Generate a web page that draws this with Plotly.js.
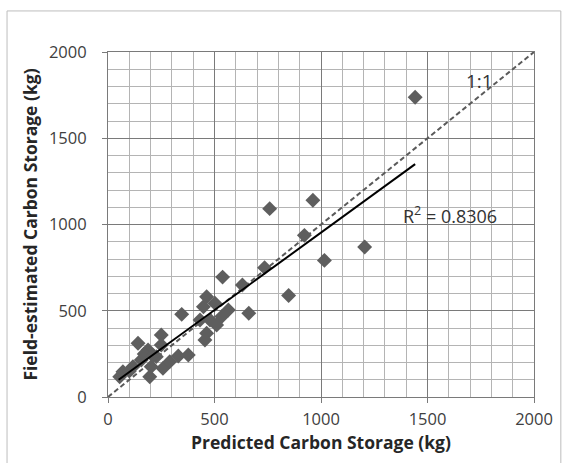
<!DOCTYPE html>
<html>
<head>
<meta charset="utf-8">
<script src="https://cdn.plot.ly/plotly-3.0.1.min.js"></script>
<style>html,body{margin:0;padding:0;background:#fff}#chart{width:564px;height:463px}</style>
</head>
<body>
<div id="chart"></div>
<script>
// Predicted vs field-estimated carbon storage (kg)
var predicted = [1442, 962, 759, 922, 1205, 1016, 848, 735, 538, 631, 661, 346, 463, 448, 502, 534, 479, 432, 510, 463, 455, 565, 141, 250, 250, 188, 156, 70, 55, 196, 258, 203, 117, 227, 290, 330, 377, 170, 210, 100];
var fieldEstimated = [1738, 1140, 1092, 937, 869, 792, 589, 750, 695, 649, 485, 479, 581, 523, 543, 466, 446, 446, 417, 369, 330, 504, 311, 359, 301, 272, 214, 147, 118, 118, 166, 176, 176, 234, 205, 238, 243, 250, 240, 150];
// linear trendline endpoints
var trendX = [50, 1442];
var trendY = [100, 1350];
// 1:1 reference line
var oneToOneX = [0, 2000];
var oneToOneY = [0, 2000];
var tickValues = [0, 500, 1000, 1500, 2000];
var tickLabels = ['0', '500', '1000', '1500', '2000'];
var r2Text = 'R<sup>2</sup> = 0.8306';
var oneToOneText = '1:1';

var font = 'Open Sans, Lato, sans-serif';
var traces = [
  {x: oneToOneX, y: oneToOneY, mode: 'lines', line: {color: '#5a5a5a', width: 2, dash: '5px,3px'}, hoverinfo: 'skip'},
  {x: predicted, y: fieldEstimated, mode: 'markers', marker: {symbol: 'diamond', size: 11.5, color: '#5e5e5e'}},
  {x: trendX, y: trendY, mode: 'lines', line: {color: '#000000', width: 2}}
];

function axis(titleText, standoff, lblStand) {
  return {
    range: [0, 2000], tickvals: tickValues, ticktext: tickLabels,
    showgrid: true, gridcolor: '#7a7a7a', gridwidth: 1,
    minor: {dtick: 100, showgrid: true, gridcolor: '#b4b4b4', gridwidth: 1},
    showline: true, linecolor: '#7a7a7a', linewidth: 1, mirror: true,
    ticks: 'outside', ticklen: 5, tickcolor: '#7a7a7a',
    ticklabelstandoff: lblStand,
    zeroline: false, fixedrange: true,
    tickfont: {family: font, size: 16.5, color: '#404040'},
    title: {text: titleText, standoff: standoff, font: {family: font, size: 17.5, color: '#262626', weight: 'bold'}}
  };
}
var xa = axis('<b>Predicted Carbon Storage (kg)</b>', 6, 2);
var ya = axis('<b>Field-estimated Carbon Storage (kg)</b>', 6, 12);

var layout = {
  width: 564, height: 463,
  margin: {l: 108, r: 30, t: 52, b: 66},
  paper_bgcolor: '#ffffff', plot_bgcolor: '#ffffff',
  showlegend: false,
  xaxis: xa, yaxis: ya,
  annotations: [
    {x: 1742, y: 1832, xref: 'x', yref: 'y', text: oneToOneText, showarrow: false, font: {family: font, size: 19, color: '#333333'}},
    {x: 1606, y: 1055, xref: 'x', yref: 'y', text: r2Text, showarrow: false, font: {family: font, size: 18, color: '#333333'}}
  ],
  shapes: [
    {type: 'rect', xref: 'paper', yref: 'paper', x0: -0.237, x1: 1.063, y0: -0.25, y1: 1.119, line: {color: '#bdbdbd', width: 1}, layer: 'below'}
  ]
};
Plotly.newPlot('chart', traces, layout, {displayModeBar: false, staticPlot: true});
</script>
</body>
</html>
